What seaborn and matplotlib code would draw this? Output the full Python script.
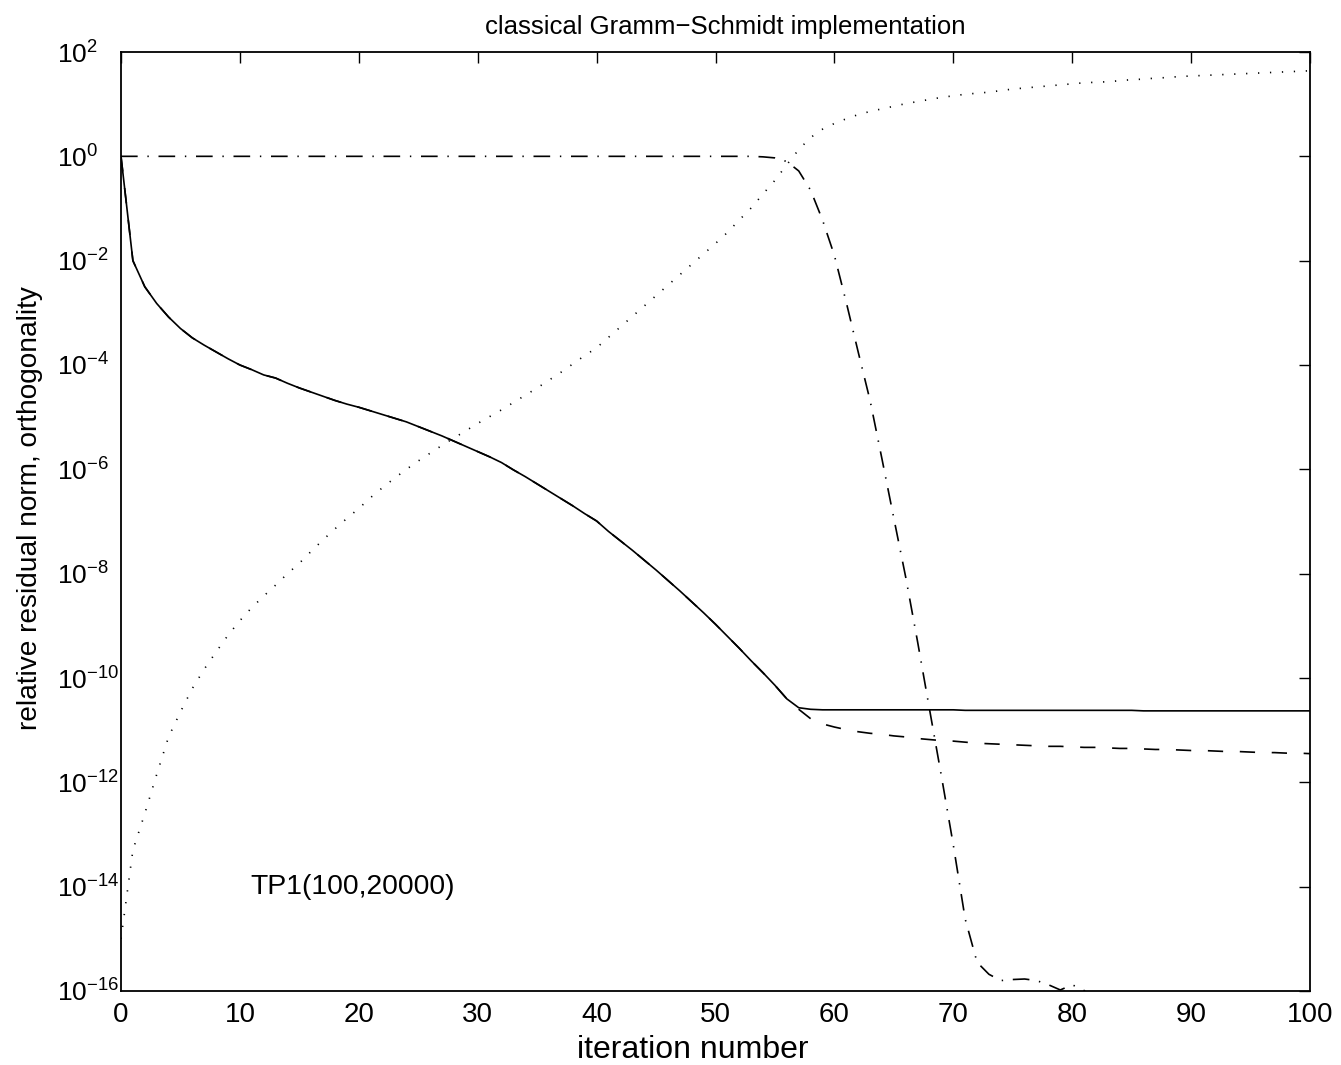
import numpy as np
import pandas as pd
import matplotlib
matplotlib.use("Agg")
import matplotlib.pyplot as plt
import seaborn as sns
from matplotlib.ticker import FixedLocator, LogFormatterMathtext

# iteration numbers
iterations = list(range(0, 101))

# relative residual norm (log10), true residual
residual_log10 = [
    0.0, -2.0, -2.5, -2.82, -3.08, -3.3, -3.48, -3.62, -3.75, -3.88,
    -4.0, -4.09, -4.19, -4.25, -4.35, -4.44, -4.52, -4.6, -4.68, -4.75,
    -4.81, -4.88, -4.95, -5.02, -5.09, -5.18, -5.27, -5.36, -5.46, -5.56,
    -5.66, -5.76, -5.87, -6.01, -6.14, -6.28, -6.42, -6.56, -6.7, -6.85,
    -6.99, -7.19, -7.37, -7.55, -7.74, -7.93, -8.13, -8.33, -8.54, -8.75,
    -8.97, -9.2, -9.43, -9.67, -9.9, -10.14, -10.4, -10.57, -10.6, -10.61,
    -10.61, -10.61, -10.61, -10.61, -10.61, -10.61, -10.61, -10.61, -10.61, -10.61,
    -10.61, -10.62, -10.62, -10.62, -10.62, -10.62, -10.62, -10.62, -10.62, -10.62,
    -10.62, -10.62, -10.62, -10.62, -10.62, -10.62, -10.63, -10.63, -10.63, -10.63,
    -10.63, -10.63, -10.63, -10.63, -10.63, -10.63, -10.63, -10.63, -10.63, -10.63,
    -10.63,
]

# recursively updated residual norm (log10) after iteration 56
recursive_tail_log10 = [
    -10.6, -10.78, -10.88, -10.94, -10.99, -11.03, -11.06, -11.08, -11.11, -11.13,
    -11.16, -11.18, -11.2, -11.21, -11.23, -11.25, -11.26, -11.27, -11.28, -11.29,
    -11.3, -11.31, -11.31, -11.32, -11.33, -11.33, -11.34, -11.35, -11.35, -11.36,
    -11.37, -11.37, -11.38, -11.39, -11.39, -11.4, -11.41, -11.41, -11.42, -11.43,
    -11.43, -11.44, -11.44, -11.45,
]
recursive_log10 = residual_log10[:57] + recursive_tail_log10

# smallest singular value of the basis (log10)
sigma_min_log10 = [0.0] * 54 + [
    -0.01, -0.03, -0.1, -0.28, -0.65, -1.22, -1.9, -2.8, -3.75, -4.68,
    -5.8, -6.94, -8.07, -9.31, -10.6, -11.88, -13.2, -14.62, -15.45, -15.68,
    -15.8, -15.78, -15.77, -15.8, -15.88, -15.98, -15.88, -15.99, -16.25, -16.4,
    -16.3, -16.5, -16.35, -16.45, -16.3, -16.5, -16.4, -16.35, -16.5, -16.45,
    -16.4, -16.5, -16.35, -16.45, -16.4, -16.5, -16.45,
]

# loss of orthogonality (log10)
orthogonality_log10 = [
    -15.0, -13.3, -12.6, -11.85, -11.13, -10.65, -10.2, -9.83, -9.5, -9.18,
    -8.9, -8.65, -8.43, -8.22, -8.0, -7.8, -7.57, -7.35, -7.14, -6.94,
    -6.75, -6.54, -6.35, -6.17, -6.0, -5.84, -5.69, -5.54, -5.4, -5.26,
    -5.12, -4.99, -4.86, -4.72, -4.58, -4.44, -4.29, -4.14, -3.98, -3.82,
    -3.67, -3.47, -3.27, -3.07, -2.87, -2.67, -2.47, -2.27, -2.07, -1.87,
    -1.67, -1.46, -1.22, -0.99, -0.72, -0.46, -0.16, 0.13, 0.36, 0.52,
    0.63, 0.72, 0.8, 0.86, 0.91, 0.96, 1.01, 1.05, 1.09, 1.13,
    1.16, 1.19, 1.21, 1.23, 1.26, 1.29, 1.31, 1.33, 1.35, 1.37,
    1.39, 1.41, 1.42, 1.43, 1.45, 1.47, 1.48, 1.5, 1.51, 1.53,
    1.54, 1.55, 1.56, 1.57, 1.58, 1.59, 1.6, 1.61, 1.62, 1.63,
    1.64,
]

series_names = ["residual", "recursive", "sigma", "orthogonality"]
series_logs = [residual_log10, recursive_log10, sigma_min_log10, orthogonality_log10]

x_ticks = [0, 10, 20, 30, 40, 50, 60, 70, 80, 90, 100]
y_tick_exponents = [-16, -14, -12, -10, -8, -6, -4, -2, 0, 2]

title_text = "classical Gramm\u2212Schmidt implementation"
x_label = "iteration number"
y_label = "relative residual norm, orthogonality"
annotation = "TP1(100,20000)"

frames = []
for name, logs in zip(series_names, series_logs):
    frames.append(pd.DataFrame({
        "iteration": iterations,
        "value": 10.0 ** np.array(logs),
        "series": name,
    }))
data = pd.concat(frames, ignore_index=True)

sns.set_theme(style="white")
plt.rcParams["font.family"] = ["Liberation Sans", "DejaVu Sans"]
plt.rcParams["mathtext.fontset"] = "custom"
plt.rcParams["mathtext.rm"] = "Liberation Sans"
plt.rcParams["mathtext.it"] = "Liberation Sans:italic"
plt.rcParams["mathtext.bf"] = "Liberation Sans:bold"
plt.rcParams["lines.scale_dashes"] = False
plt.rcParams["text.color"] = "black"
plt.rcParams["axes.labelcolor"] = "black"
plt.rcParams["xtick.color"] = "black"
plt.rcParams["ytick.color"] = "black"

fig = plt.figure(figsize=(13.41, 10.65), dpi=100)
ax = fig.add_axes([121 / 1341, 1 - 991 / 1065, (1310 - 121) / 1341, (991 - 52) / 1065])

line_dashes = {
    "residual": "",
    "recursive": (11, 12),
    "sigma": (12, 7, 1, 7),
    "orthogonality": (0.9, 7.7),
}

sns.lineplot(
    data=data, x="iteration", y="value", style="series",
    dashes=line_dashes, color="black", linewidth=1.2,
    legend=False, ax=ax, estimator=None, sort=False,
)

ax.set_yscale("log")
ax.set_xlim(0, 100)
ax.set_ylim(1e-16, 1e2)
ax.xaxis.set_major_locator(FixedLocator(x_ticks))
ax.yaxis.set_major_locator(FixedLocator([10.0 ** e for e in y_tick_exponents]))
ax.yaxis.set_minor_locator(FixedLocator([]))
ax.yaxis.set_major_formatter(LogFormatterMathtext())

ax.tick_params(axis="both", which="major", direction="in", length=8, width=1,
               top=True, right=True, colors="black")
ax.tick_params(axis="x", pad=8, labelsize=20)
# powers of ten: the base "10" lines up on the left, exponent trails to the right
ax.tick_params(axis="y", pad=46, labelsize=19)
for lbl in ax.get_yticklabels():
    lbl.set_horizontalalignment("left")

for side in ["left", "right", "top", "bottom"]:
    ax.spines[side].set_visible(True)
    ax.spines[side].set_color("black")
    ax.spines[side].set_linewidth(1.3)

ax.set_title(title_text, fontsize=18.5, x=0.508, pad=13, color="black")
ax.set_xlabel(x_label, fontsize=23)
ax.xaxis.set_label_coords(0.481, -0.0628)
ax.xaxis.label.set_verticalalignment("center")
ax.set_ylabel(y_label, fontsize=20.2)
ax.yaxis.set_label_coords(-0.0765, 0.514)
ax.yaxis.label.set_verticalalignment("center")
ax.text(10.9, 1e-14, annotation, fontsize=20.4, ha="left", va="center", color="black")

fig.savefig("out.png", dpi=100)
